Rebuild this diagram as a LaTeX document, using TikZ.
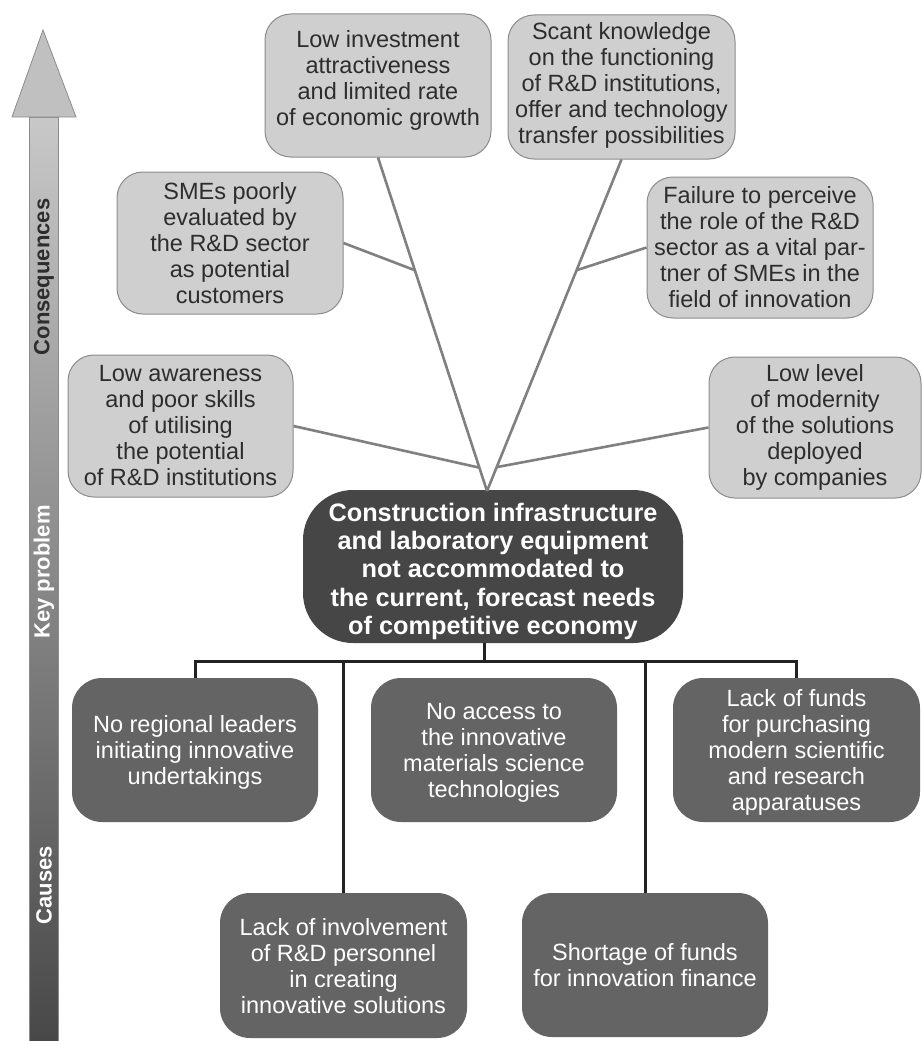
\documentclass[tikz,border=0pt]{standalone}
\usepackage{fontspec}
\setmainfont{Liberation Sans}
\usetikzlibrary{calc}
\definecolor{lightbox}{RGB}{207,207,207}
\definecolor{lborder}{RGB}{140,140,140}
\definecolor{ltext}{RGB}{45,45,45}
\definecolor{darkbox}{RGB}{100,100,100}
\definecolor{keybox}{RGB}{70,70,70}
\definecolor{glink}{RGB}{128,128,128}
\definecolor{blink}{RGB}{34,34,34}
\definecolor{arrtop}{RGB}{200,200,200}
\definecolor{arrbot}{RGB}{72,72,72}
\definecolor{arrhead}{RGB}{192,192,192}
\begin{document}
\begin{tikzpicture}[x=1pt,y=-1pt,
  lightnode/.style={draw=lborder, line width=1pt, fill=lightbox, rounded corners=26pt,
    text=ltext, align=center, font=\fontsize{23.5}{26}\selectfont, inner sep=0pt},
  darknode/.style={fill=darkbox, rounded corners=30pt, text=white, align=center,
    font=\fontsize{23.5}{26}\selectfont, inner sep=0pt, text depth=0pt,
    minimum width=246pt, minimum height=144pt},
  keynode/.style={fill=keybox, rounded corners=50pt, text=white, align=center,
    font=\fontsize{25.3}{28.2}\selectfont\bfseries, inner sep=0pt},
  glinestyle/.style={draw=glink, line width=2.6pt},
  blinestyle/.style={draw=blink, line width=3pt},
  sidelabel/.style={rotate=90, font=\fontsize{22}{24}\selectfont\bfseries, inner sep=0pt}]
\useasboundingbox (0,0) rectangle (922,1041);
\fill[white] (0,0) rectangle (922,1041);

% side arrow
\shade[top color=arrtop, bottom color=arrbot, draw=lborder, line width=0.8pt]
  (29,117) rectangle (58,1041);
\filldraw[fill=arrhead, draw=lborder, line width=0.8pt]
  (12,117) -- (43,30) -- (76,117) -- cycle;
\node[sidelabel, text=ltext] (lcons) at (44,277) {Consequences};
\node[sidelabel, text=white] (lkey) at (44,572) {Key problem};
\node[sidelabel, text=white] (lcause) at (44,885) {Causes};

% consequences
\node[lightnode, minimum width=226pt, minimum height=143pt] (c1) at (378,85.5)
  {Low investment\\attractiveness\\and limited rate\\of economic growth\\[-10pt]};
\node[lightnode, minimum width=227pt, minimum height=144pt] (c2) at (621.5,87)
  {Scant knowledge\\on the functioning\\of R\&D institutions,\\offer and technology\\transfer possibilities\\[-18pt]};
\node[lightnode, minimum width=226pt, minimum height=142pt] (c3) at (230,243)
  {SMEs poorly\\evaluated by\\the R\&D sector\\as potential\\customers};
\node[lightnode, minimum width=226pt, minimum height=141pt] (c4) at (760,247.5)
  {Failure to perceive\\the role of the R\&D\\sector as a vital par-\\tner of SMEs in the\\field of innovation};
\node[lightnode, minimum width=225pt, minimum height=142pt] (c5) at (180.5,426)
  {Low awareness\\and poor skills\\of utilising\\the potential\\of R\&D institutions};
\node[lightnode, minimum width=212pt, minimum height=141pt] (c6) at (815,427.5)
  {Low level\\of modernity\\of the solutions\\deployed\\by companies};

% key problem
\node[keynode, minimum width=380pt, minimum height=153pt] (K) at (493,566.5)
  {\rule{0pt}{28pt}Construction infrastructure\\and laboratory equipment\\not accommodated to\\the current, forecast needs\\of competitive economy};

% causes
\node[darknode] (b1) at (195,750) {No regional leaders\\initiating innovative\\undertakings};
\node[darknode] (b2) at (494,750) {No access to\\the innovative\\materials science\\technologies};
\node[darknode, minimum width=247pt] (b3) at (796.5,750) {Lack of funds\\for purchasing\\modern scientific\\and research\\apparatuses};
\node[darknode, minimum width=247pt, minimum height=145pt] (b4) at (343.5,965.5) {Lack of involvement\\of R\&D personnel\\in creating\\innovative solutions};
\node[darknode] (b5) at (645,965) {Shortage of funds\\for innovation finance};

% gray connectors
\coordinate (P) at (487,491);
\coordinate (q3) at ($(c1.south)!0.338!(P)$);
\coordinate (q4) at ($(c2.south)!0.334!(P)$);
\coordinate (q5) at ($(c1.south)!0.93!(P)$);
\coordinate (q6) at ($(c2.south)!0.928!(P)$);
\draw[glinestyle] (c1.south) -- (P);
\draw[glinestyle] (c2.south) -- (P);
\draw[glinestyle] (c3.east) -- (q3);
\draw[glinestyle] (c4.west) -- (q4);
\draw[glinestyle] (c5.east) -- (q5);
\draw[glinestyle] (c6.west) -- (q6);

% black connectors
\coordinate (J) at (484,661);
\draw[blinestyle] (K.south -| J) -- (J);
\draw[blinestyle] (b1.north) |- (J) -| (b3.north);
\draw[blinestyle] (b4.north) -- (b4.north |- J);
\draw[blinestyle] (b5.north) -- (b5.north |- J);
\end{tikzpicture}
\end{document}
